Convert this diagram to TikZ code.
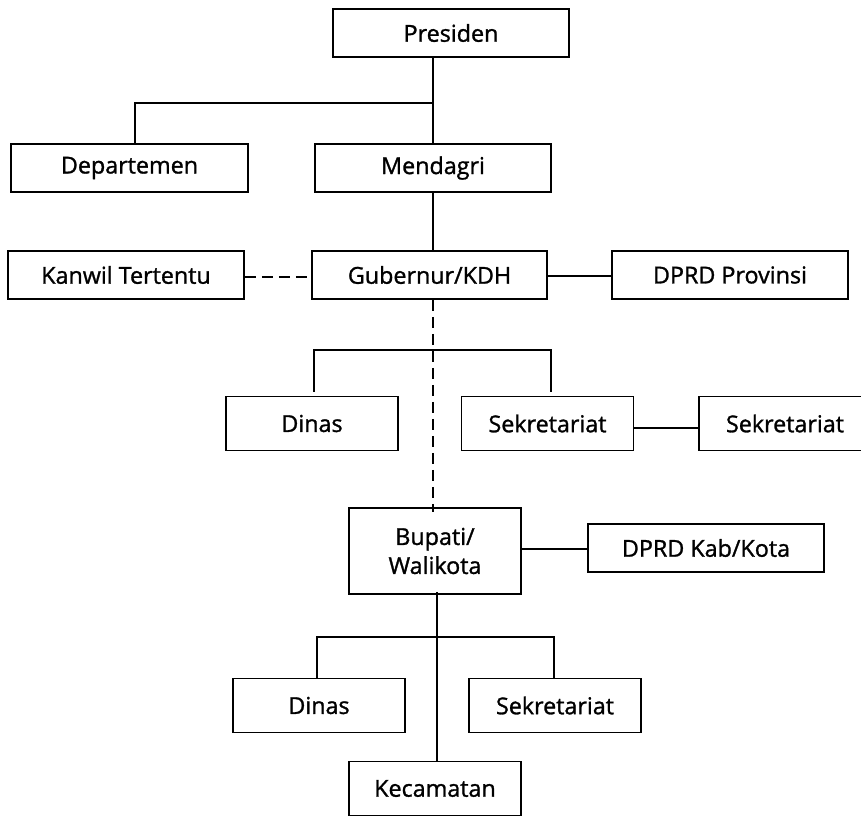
\documentclass[tikz,border=0pt]{standalone}
\usepackage{fontspec}
\setmainfont{Open Sans}[FakeBold=1.2]
\begin{document}
\begin{tikzpicture}[x=1pt,y=-1pt,
  box/.style={draw, line width=1.8pt, inner sep=2pt, minimum width=236pt, minimum height=48pt,
    font=\fontsize{23.3}{29}\selectfont, align=center},
  sbox/.style={box, minimum width=172pt, minimum height=54pt},
  conn/.style={line width=1.8pt},
  dconn/.style={line width=1.8pt, dash pattern=on 11pt off 6pt}]
\useasboundingbox (0,0) rectangle (861,816);
\node[box] (pres) at (451,33) {Presiden};
\node[box, minimum width=237pt] (dep) at (129.5,168) {Departemen};
\node[box] (mend) at (433,168) {Mendagri};
\node[box] (kanwil) at (126,275) {Kanwil Tertentu};
\node[box, minimum width=235pt] (gub) at (429.5,275) {Gubernur/KDH};
\node[box] (dprdp) at (730,275) {DPRD Provinsi};
\node[sbox] (din1) at (312,423.5) {Dinas};
\node[sbox] (sek1) at (547.5,423.5) {Sekretariat};
\node[sbox] (sek2) at (785,423.5) {Sekretariat};
\node[sbox, minimum height=86pt] (bup) at (435,551) {Bupati/\\Walikota};
\node[box] (dprdk) at (706,548) {DPRD Kab/Kota};
\node[sbox] (din2) at (319,705.5) {Dinas};
\node[sbox] (sek3) at (555,705.5) {Sekretariat};
\node[sbox] (kec) at (435,788.5) {Kecamatan};
\coordinate (j1) at (433,103);
\coordinate (j2) at (433,350);
\coordinate (j3) at (437,637);
% top
\draw[conn] (mend.north) -- (mend.north |- pres.south);
\draw[conn] (j1) -| ([xshift=5.5pt]dep.north);
\draw[conn] (mend.south) -- (mend.south |- gub.north);
\draw[dconn] ([yshift=-2pt]kanwil.east) -- ([yshift=-2pt]gub.west);
\draw[conn] ([yshift=-1pt]gub.east) -- ([yshift=-1pt]dprdp.west);
\draw[dconn] (mend.south |- gub.south) -- ([yshift=-5pt]mend.south |- bup.north);
% provincial branch
\draw[conn, shorten <=4pt, shorten >=4pt] ([xshift=2pt]din1.north) -- ([xshift=2pt]din1.north |- j2) -- ([xshift=3.5pt]sek1.north |- j2) -- ([xshift=3.5pt]sek1.north);
\draw[conn] ([yshift=-4.5pt]sek1.east) -- ([yshift=-4.5pt]sek2.west);
% regency
\draw[conn] ([yshift=-1pt]bup.east |- dprdk.west) -- ([yshift=-1pt]dprdk.west);
\draw[conn] ([xshift=2pt,yshift=3pt]bup.south) -- ([xshift=2pt]kec.north);
\draw[conn] ([xshift=-2pt]din2.north) -- ([xshift=-2pt]din2.north |- j3) -- ([xshift=-1pt]sek3.north |- j3) -- ([xshift=-1pt]sek3.north);
\end{tikzpicture}
\end{document}
